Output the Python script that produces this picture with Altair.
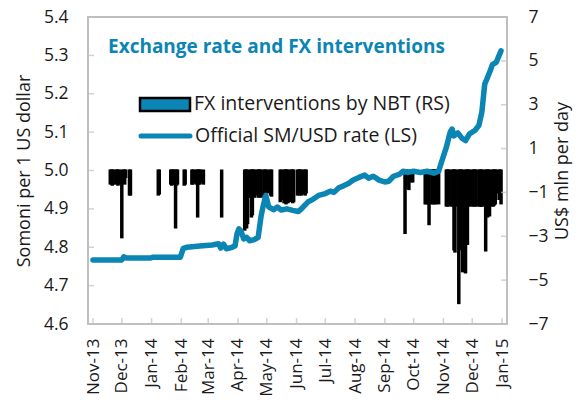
import altair as alt
import pandas as pd

# ---------------- data ----------------
rate_dates = [
    "2013-11-01", "2013-12-01", "2013-12-03", "2013-12-06", "2013-12-31", "2014-01-02",
    "2014-01-31", "2014-02-03", "2014-02-07", "2014-02-20", "2014-03-05", "2014-03-12",
    "2014-03-14", "2014-03-17", "2014-03-20", "2014-03-26", "2014-03-29", "2014-03-31",
    "2014-04-02", "2014-04-04", "2014-04-07", "2014-04-10", "2014-04-13", "2014-04-18",
    "2014-04-22", "2014-04-25", "2014-04-27", "2014-04-30", "2014-05-03", "2014-05-08",
    "2014-05-12", "2014-05-16", "2014-05-22", "2014-05-28", "2014-06-03", "2014-06-08",
    "2014-06-13", "2014-06-18", "2014-06-24", "2014-07-01", "2014-07-06", "2014-07-10",
    "2014-07-15", "2014-07-20", "2014-07-25", "2014-07-30", "2014-08-05", "2014-08-11",
    "2014-08-15", "2014-08-20", "2014-08-26", "2014-09-01", "2014-09-05", "2014-09-10",
    "2014-09-16", "2014-09-20", "2014-09-25", "2014-10-01", "2014-10-08", "2014-10-15",
    "2014-10-22", "2014-10-27", "2014-10-31", "2014-11-04", "2014-11-08", "2014-11-10",
    "2014-11-12", "2014-11-16", "2014-11-20", "2014-11-24", "2014-11-28", "2014-12-04",
    "2014-12-08", "2014-12-11", "2014-12-14", "2014-12-17", "2014-12-20", "2014-12-22",
    "2014-12-26", "2014-12-29", "2014-12-31",
]
rate_values = [
    4.767, 4.767, 4.775, 4.772, 4.772, 4.774,
    4.774, 4.797, 4.800, 4.803, 4.806, 4.809,
    4.798, 4.808, 4.796, 4.800, 4.804, 4.835,
    4.848, 4.843, 4.822, 4.826, 4.817, 4.820,
    4.826, 4.880, 4.905, 4.935, 4.905, 4.898,
    4.905, 4.897, 4.900, 4.896, 4.893, 4.905,
    4.918, 4.925, 4.935, 4.940, 4.946, 4.943,
    4.955, 4.960, 4.966, 4.975, 4.982, 4.988,
    4.980, 4.985, 4.975, 4.970, 4.972, 4.985,
    4.990, 4.998, 4.995, 4.998, 4.995, 4.998,
    4.993, 4.998, 5.030, 5.060, 5.100, 5.108,
    5.090, 5.098, 5.085, 5.078, 5.095, 5.105,
    5.118, 5.152, 5.225, 5.243, 5.262, 5.276,
    5.282, 5.300, 5.312,
]

fx_dates = [
    "2013-11-19", "2013-11-20", "2013-11-21", "2013-11-22", "2013-11-25", "2013-11-26",
    "2013-11-27", "2013-11-28", "2013-12-01", "2013-12-03", "2013-12-04", "2013-12-05",
    "2013-12-09", "2013-12-10",
    "2014-01-08", "2014-01-09",
    "2014-01-21", "2014-01-22", "2014-01-23", "2014-01-24", "2014-01-26", "2014-01-27",
    "2014-01-28", "2014-02-04", "2014-02-05",
    "2014-02-12", "2014-02-13", "2014-02-14", "2014-02-17", "2014-02-18", "2014-02-19",
    "2014-02-20", "2014-02-21", "2014-02-24",
    "2014-03-15",
    "2014-04-08", "2014-04-09", "2014-04-10", "2014-04-11", "2014-04-14", "2014-04-15",
    "2014-04-16", "2014-04-17", "2014-04-18", "2014-04-21", "2014-04-22", "2014-04-23",
    "2014-04-24", "2014-04-25", "2014-04-28", "2014-04-29", "2014-04-30", "2014-05-02",
    "2014-05-05", "2014-05-06",
    "2014-05-15", "2014-05-16", "2014-05-19", "2014-05-20", "2014-05-21", "2014-05-22",
    "2014-05-23", "2014-05-26", "2014-05-27", "2014-05-28", "2014-05-29", "2014-06-02",
    "2014-06-03", "2014-06-04", "2014-06-05", "2014-06-06", "2014-06-09", "2014-06-10",
    "2014-06-11",
    "2014-09-22", "2014-09-23", "2014-09-26", "2014-09-29", "2014-09-30",
    "2014-10-13", "2014-10-14", "2014-10-15", "2014-10-16", "2014-10-17", "2014-10-20",
    "2014-10-21", "2014-10-22", "2014-10-23", "2014-10-24", "2014-10-27",
    "2014-11-04", "2014-11-05", "2014-11-06", "2014-11-07", "2014-11-10", "2014-11-11",
    "2014-11-12", "2014-11-13", "2014-11-14", "2014-11-17", "2014-11-18", "2014-11-19",
    "2014-11-20", "2014-11-21", "2014-11-24", "2014-11-25", "2014-11-26", "2014-11-27",
    "2014-11-28", "2014-12-01", "2014-12-02", "2014-12-03", "2014-12-04", "2014-12-05",
    "2014-12-08", "2014-12-09", "2014-12-10", "2014-12-11", "2014-12-12", "2014-12-15",
    "2014-12-16", "2014-12-17", "2014-12-18", "2014-12-19", "2014-12-22", "2014-12-23",
    "2014-12-24", "2014-12-25", "2014-12-26", "2014-12-29", "2014-12-30", "2014-12-31",
]
fx_values = [
    -0.6, -0.55, -0.65, -0.6, -0.6, -0.55,
    -0.65, -0.6, -3.05, -0.35, -0.6, -0.3,
    -1.1, -1.1,
    -1.1, -1.05,
    -0.6, -0.65, -0.6, -0.6, -2.6, -0.65,
    -0.6, -0.65, -0.6,
    -0.6, -0.6, -0.55, -0.6, -2.1, -0.6,
    -0.6, -0.55, -0.6,
    -2.1,
    -2.7, -2.5, -2.6, -2.4, -1.2, -2.1,
    -2.0, -1.1, -1.2, -1.1, -1.2, -1.1,
    -1.0, -1.2, -1.1, -1.2, -1.1, -1.0,
    -1.1, -1.15,
    -1.4, -1.3, -1.45, -1.4, -1.5, -1.4,
    -1.45, -1.4, -1.35, -1.45, -1.4, -1.1,
    -1.05, -1.1, -1.0, -1.1, -1.05, -1.1,
    -1.0,
    -2.85, -0.8, -0.85, -0.5, -0.5,
    -1.5, -1.5, -1.45, -1.5, -2.45, -1.5,
    -1.5, -1.45, -1.5, -1.5, -1.5,
    -1.6, -1.6, -1.55, -1.6, -1.6, -1.6,
    -3.6, -3.7, -1.6, -6.05, -3.6, -1.6,
    -1.6, -4.6, -4.65, -1.6, -3.35, -1.6,
    -1.6, -1.6, -1.6, -1.55, -1.6, -1.6,
    -1.6, -1.6, -1.6, -1.6, -1.6, -3.65,
    -2.05, -2.1, -1.6, -2.05, -1.6, -1.6,
    -1.55, -1.5, -1.0, -1.3, -1.0, -1.5,
]

left_ticks = [4.6, 4.7, 4.8, 4.9, 5.0, 5.1, 5.2, 5.3, 5.4]
right_ticks = [-7, -5, -3, -1, 1, 3, 5, 7]
month_ticks = [
    (2013, 11), (2013, 12), (2014, 1), (2014, 2), (2014, 3), (2014, 4), (2014, 5),
    (2014, 6), (2014, 7), (2014, 8), (2014, 9), (2014, 10), (2014, 11), (2014, 12),
    (2015, 1),
]

chart_title = "Exchange rate and FX interventions"
legend_labels = ["FX interventions by NBT (RS)", "Official SM/USD rate (LS)"]
left_title = "Somoni per 1 US dollar"
right_title = "US$ mln per day"

# ---------------- styling ----------------
TEAL = "#0b85b4"
GRAY = "#bfbfbf"
TXT = "#1a1a1a"
FONT = "Open Sans"
W, H = 419, 307

rate_df = pd.DataFrame({"date": [d + "T00:00:00" for d in rate_dates], "rate": rate_values})
fx_df = pd.DataFrame({"date": [d + "T00:00:00" for d in fx_dates], "fx": fx_values})
lt_df = pd.DataFrame({"v": left_ticks})
rt_df = pd.DataFrame({"v": right_ticks})
mt_df = pd.DataFrame({"date": [f"{y:04d}-{m:02d}-01T00:00:00" for y, m in month_ticks]})

x_scale = alt.Scale(
    domain=[alt.DateTime(year=2013, month=11, date=1), alt.DateTime(year=2015, month=1, date=1)],
    nice=False,
)
x_axis = alt.Axis(
    values=[alt.DateTime(year=y, month=m, date=1) for y, m in month_ticks],
    format="%b-%y", labelAngle=270, labelPadding=14, labelFontSize=17,
    ticks=False, domain=False, grid=False, title=None, labelOverlap=False,
    labelFlush=False,
)
x_enc = alt.X("date:T", scale=x_scale, axis=x_axis)

left_scale = alt.Scale(domain=[4.6, 5.4], nice=False, zero=False)
right_scale = alt.Scale(domain=[-7, 7], nice=False, zero=False)

bars = alt.Chart(fx_df).mark_bar(size=1.5, color="black", stroke="black", strokeWidth=2).encode(
    x=x_enc,
    y=alt.Y("fx:Q", scale=right_scale, axis=alt.Axis(
        orient="right", values=right_ticks, title=right_title, titleAngle=270,
        titleBaseline="top", ticks=False, domain=False, grid=False,
        labelPadding=21, titlePadding=5,
    )),
)

line = alt.Chart(rate_df).mark_line(color=TEAL, strokeWidth=5.5, strokeJoin="round", strokeCap="round").encode(
    x=x_enc,
    y=alt.Y("rate:Q", scale=left_scale, axis=alt.Axis(
        orient="left", values=left_ticks, format=".1f", title=left_title,
        ticks=False, domain=False, grid=False, labelPadding=20, titlePadding=10,
    )),
)

left_tk = alt.Chart(lt_df).mark_tick(orient="horizontal", color=GRAY, size=6, thickness=1.5).encode(
    y=alt.Y("v:Q", scale=left_scale, axis=None), x=alt.value(3)
)
right_tk = alt.Chart(rt_df).mark_tick(orient="horizontal", color=GRAY, size=6, thickness=1.5).encode(
    y=alt.Y("v:Q", scale=right_scale, axis=None), x=alt.value(W - 3)
)
bottom_tk = alt.Chart(mt_df).mark_tick(orient="vertical", color=GRAY, size=6, thickness=1.5).encode(
    x=x_enc, y=alt.value(H - 3)
)

title_txt = alt.Chart(pd.DataFrame({"t": [chart_title]})).mark_text(
    align="left", baseline="middle", font=FONT, fontSize=19, fontWeight="bold", color=TEAL
).encode(text="t:N", x=alt.value(20), y=alt.value(30))

leg_rect = alt.Chart(pd.DataFrame({"k": [legend_labels[0]]})).mark_rect(
    fill=TEAL, stroke="black", strokeWidth=2.5
).encode(x=alt.value(52), x2=alt.value(102), y=alt.value(81), y2=alt.value(94))
leg_rule = alt.Chart(pd.DataFrame({"k": [legend_labels[1]]})).mark_rule(
    color=TEAL, strokeWidth=5, strokeCap="round"
).encode(x=alt.value(53), x2=alt.value(102), y=alt.value(119))
leg_t1 = alt.Chart(pd.DataFrame({"t": [legend_labels[0]]})).mark_text(
    align="left", baseline="middle", font=FONT, fontSize=19.5, color=TXT
).encode(text="t:N", x=alt.value(106), y=alt.value(87))
leg_t2 = alt.Chart(pd.DataFrame({"t": [legend_labels[1]]})).mark_text(
    align="left", baseline="middle", font=FONT, fontSize=19.5, color=TXT
).encode(text="t:N", x=alt.value(107), y=alt.value(119))

chart = alt.layer(
    bars, line, left_tk, right_tk, bottom_tk, title_txt, leg_rect, leg_rule, leg_t1, leg_t2
).resolve_scale(y="independent").properties(
    width=W, height=H,
    autosize=alt.AutoSizeParams(type="none"),
    padding={"left": 80, "top": 9, "right": 66, "bottom": 76},
).configure_view(
    stroke=GRAY, strokeWidth=2
).configure_axis(
    labelFont=FONT, titleFont=FONT, labelFontSize=17.5, titleFontSize=18,
    labelColor=TXT, titleColor=TXT, titleFontWeight="normal",
)

chart.save("out.html", embed_options={"renderer": "svg", "actions": False})
